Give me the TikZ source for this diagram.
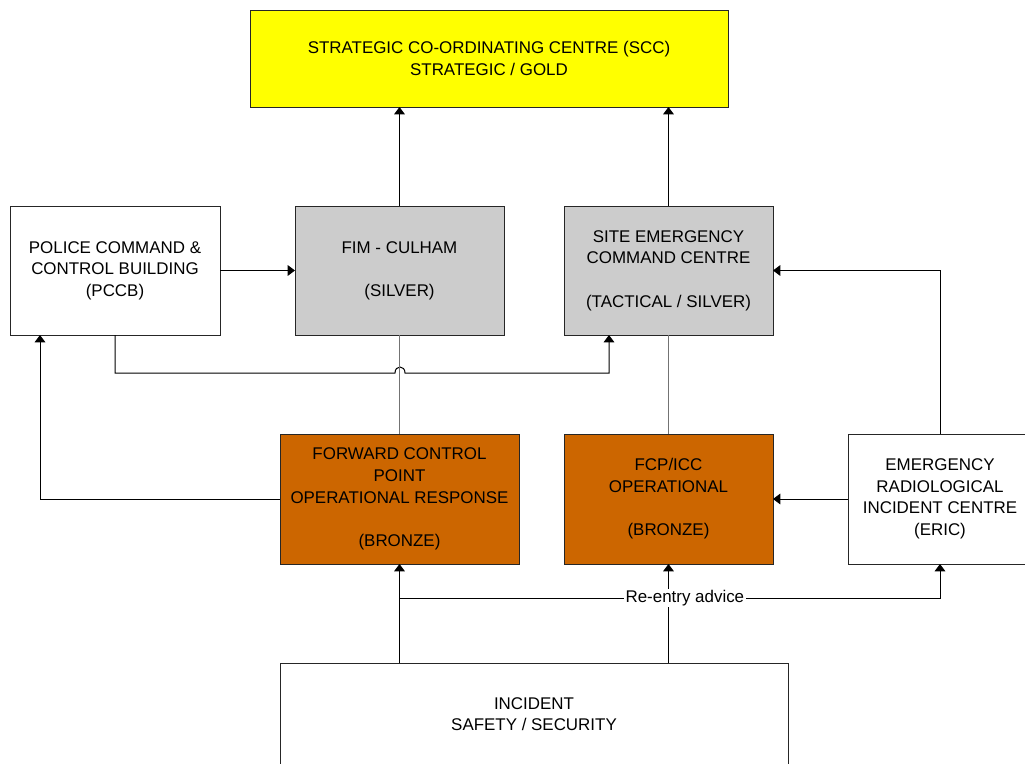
\documentclass[tikz,border=0pt]{standalone}
\usepackage{fontspec}
\setmainfont{Liberation Sans}
\usetikzlibrary{arrows.meta}
\definecolor{gold}{HTML}{FFFF00}
\definecolor{silver}{HTML}{CCCCCC}
\definecolor{bronze}{HTML}{CC6600}
\begin{document}
\begin{tikzpicture}[x=0.75pt,y=-0.75pt,
  box/.style={rectangle, draw=black!85, line width=0.75pt, inner sep=0pt, outer sep=0pt, align=center, font=\fontsize{12.7}{16.2}\selectfont},
  arr/.style={-{Triangle[width=8pt,length=5.5pt]}, line width=0.75pt, black},
  link/.style={line width=0.75pt, black!55}]
\useasboundingbox (0,0) rectangle (1025,764);
\node[box, fill=gold, minimum width=358.5pt, minimum height=72.75pt] (scc) at (489,58.5) {STRATEGIC CO-ORDINATING CENTRE (SCC)\\STRATEGIC / GOLD};
\node[box, fill=white, minimum width=157.5pt, minimum height=96.75pt] (pccb) at (115,270.5) {POLICE COMMAND \&\\CONTROL BUILDING\\(PCCB)};
\node[box, fill=silver, minimum width=156.75pt, minimum height=96.75pt] (fim) at (399.5,270.5) {FIM - CULHAM\\~\\(SILVER)};
\node[box, fill=silver, minimum width=156.75pt, minimum height=96.75pt] (secc) at (668.5,270.5) {SITE EMERGENCY\\COMMAND CENTRE\\~\\(TACTICAL / SILVER)};
\node[box, fill=bronze, minimum width=179.25pt, minimum height=97.5pt] (fcp) at (399.5,499) {FORWARD CONTROL\\POINT\\OPERATIONAL RESPONSE\\~\\(BRONZE)};
\node[box, fill=bronze, minimum width=156.75pt, minimum height=97.5pt] (fcpicc) at (668.5,499) {FCP/ICC\\OPERATIONAL\\~\\(BRONZE)};
\node[box, fill=white, minimum width=138pt, minimum height=97.5pt] (eric) at (940,499) {EMERGENCY\\RADIOLOGICAL\\INCIDENT CENTRE\\(ERIC)};
\node[box, fill=white, minimum width=381pt, minimum height=76.5pt] (incident) at (534,714) {INCIDENT\\SAFETY / SECURITY};
% silver up to gold
\draw[arr] (fim.north) -- (fim.north |- scc.south);
\draw[arr] (secc.north) -- (secc.north |- scc.south);
\draw[arr] (pccb.east) -- (fim.west);
% pccb to site emergency, jumping the fim line
\draw[arr] (pccb.south) -- (pccb.south |- 0,373) -- (395,373) .. controls (395,365) and (405,365) .. (405,373) -- (609,373) -- (secc.south -| 609,0);
\draw[link] (fim.south) -- (fcp.north);
\draw[link] (secc.south) -- (fcpicc.north);
\draw[arr] (fcp.west) -| ([xshift=22.5pt]pccb.south west);
\draw[arr] (eric.north) |- (secc.east);
\draw[arr] (eric.west) -- (fcpicc.east);
\draw[arr] (fcp.south |- incident.north) -- (fcp.south);
\draw[arr] (fcpicc.south |- incident.north) -- (fcpicc.south);
\coordinate (branch) at (fcp.south |- 0,598);
\draw[arr] (branch) -| node[pos=0.264, fill=white, inner sep=1pt, font=\fontsize{12.7}{15}\selectfont] (reentry) {Re-entry advice} (eric.south);
\end{tikzpicture}
\end{document}
